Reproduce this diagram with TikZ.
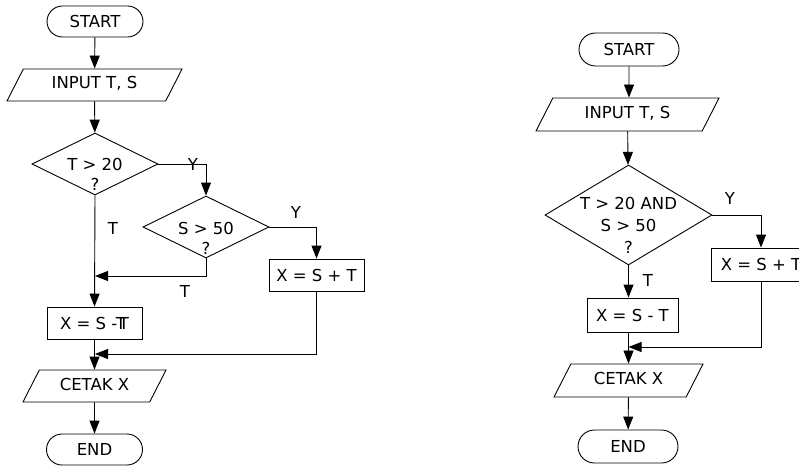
\documentclass[tikz,border=0pt]{standalone}
\usepackage{fontspec}
\setmainfont{DejaVu Sans}
\usepackage{tikz}
\usetikzlibrary{shapes.geometric,shapes.misc,arrows.meta}

\tikzset{
    term/.style={draw, rounded rectangle, minimum width=96pt, minimum height=31pt, inner sep=0pt},
    io/.style={draw, trapezium, trapezium left angle=63, trapezium right angle=117,
        trapezium stretches body, text height=12pt, text depth=4pt, inner xsep=0pt, inner ysep=8pt},
    dec/.style={draw, diamond, inner sep=0pt},
    proc/.style={draw, rectangle, minimum width=95pt, minimum height=32pt, inner sep=0pt},
    flow/.style={-{Triangle[width=10pt,length=13pt]}},
    lbl/.style={inner sep=0pt, align=center}
}

\begin{document}
\begin{tikzpicture}[x=1pt,y=-1pt,line width=0.9pt,font=\fontsize{16.5}{20}\selectfont]
    \useasboundingbox (0,0) rectangle (799,465);
    % first: nested decisions
        \node[term] (start1) at (95,21.5) {START};
        \node[io, minimum width=175pt] (in1) at (94.5,85) {INPUT T, S};
        \node[dec, minimum width=126pt, minimum height=62pt] (dec1) at (95,164) {};
        \node[lbl] (q1) at (95,174) {T > 20\\?};
        \node[dec, minimum width=126pt, minimum height=62pt] (dec2) at (206,227) {};
        \node[lbl] (q2) at (206,238) {S > 50\\?};
        \node[proc] (add1) at (316.5,275) {X = S + T};
        \node[proc] (sub1) at (94.5,323) {X = S -T\kern-7pt T};
        \node[io, minimum width=143pt] (out1) at (94.5,386) {CETAK X};
        \node[term] (end1) at (94.5,449.5) {END};

        \coordinate (j1) at (95,276);
        \coordinate (j2) at (95,354);

        \draw[flow] (start1) -- (in1);
        \draw[flow] (in1) -- (dec1);
        \draw[flow] (dec1.east) -| (dec2.north);
        \draw[flow] (dec2.east) -| (add1.north);
        \draw[flow] (dec1.south) -- (sub1.north);
        \draw[flow] (dec2.south) |- (j1);
        \draw[flow] (add1.south) |- (j2);
        \draw[flow] (sub1.south) -- (out1.north);
        \draw[flow] (out1) -- (end1);

        \node[lbl] (y1) at (193,164) {Y};
        \node[lbl] (y2) at (296,212) {Y};
        \node[lbl] (t1) at (113,228) {T};
        \node[lbl] (t2) at (185,291) {T};
    % second: one combined decision
        \node[term, minimum width=100pt, minimum height=33pt] (start2) at (629,49.5) {START};
        \node[io, minimum width=183pt, inner ysep=8.5pt] (in2) at (627.5,114.5) {INPUT T, S};
        \node[dec, minimum width=167pt, minimum height=100pt] (dec3) at (628.5,215) {};
        \node[lbl, font=\fontsize{16.5}{22}\selectfont] (q3) at (628.5,225) {T > 20 AND\\S > 50\\?};
        \node[proc, minimum width=100pt, minimum height=33pt] (add2) at (761,264.5) {X = S + T};
        \node[proc, minimum width=91pt, minimum height=34pt] (sub2) at (632.5,315) {X = S - T};
        \node[io, minimum width=149pt, inner ysep=8.5pt] (out2) at (628.5,380.5) {CETAK X};
        \node[term, minimum width=100pt, minimum height=33pt] (end2) at (628,446.5) {END};

        \coordinate (j3) at (628.5,347);

        \draw[flow] (start2) -- (start2 |- in2.north);
        \draw[flow] (in2) -- (dec3);
        \draw[flow] (dec3.east) -| (add2.north);
        \draw[flow] (dec3.south) -- (dec3.south |- sub2.north);
        \draw[flow] (dec3.south |- sub2.south) -- (dec3.south |- out2.north);
        \draw[flow] (add2.south) |- (j3);
        \draw[flow] (out2) -- (end2);

        \node[lbl] (y3) at (730,198) {Y};
        \node[lbl] (t3) at (648,280) {T};
\end{tikzpicture}
\end{document}
